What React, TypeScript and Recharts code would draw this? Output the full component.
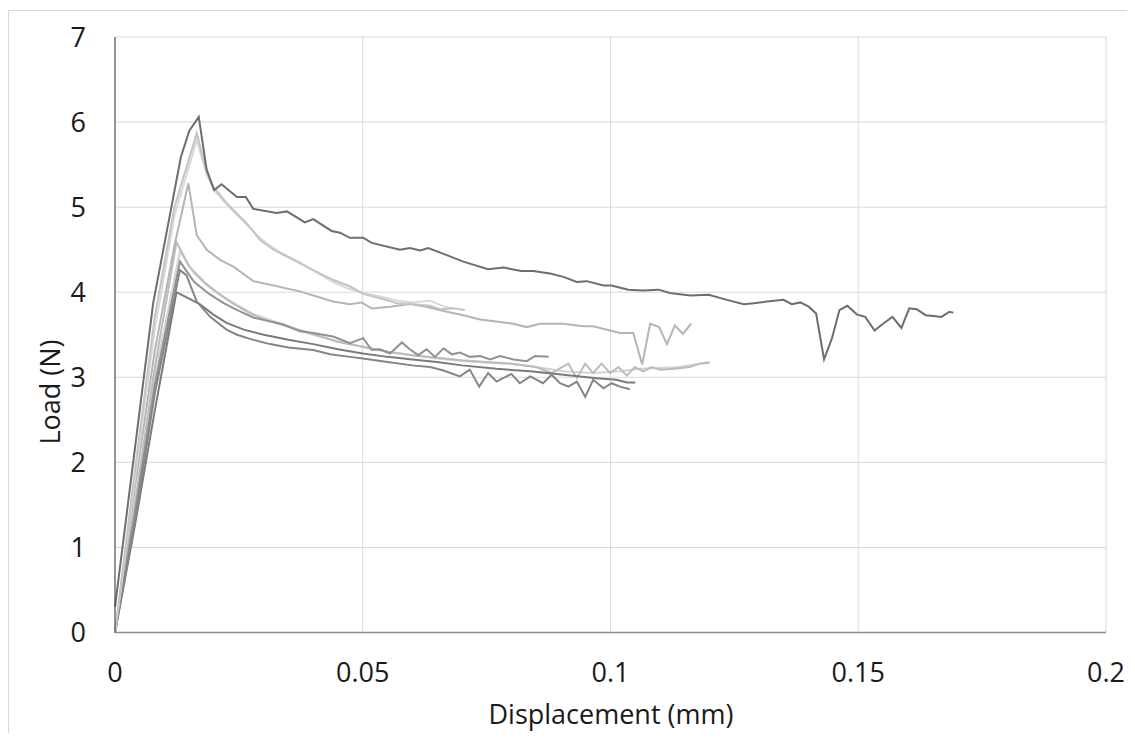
import React from "react";
import {
  CartesianGrid,
  Label,
  Line,
  LineChart,
  XAxis,
  YAxis,
} from "recharts";

interface Pt {
  x: number;
  y: number;
}

const toPts = (rows: number[][]): Pt[] => rows.map(([x, y]) => ({ x, y }));

// displacement (mm), load (N)
const specimenA = toPts([
  [0, 0.3], [0.0077, 3.87], [0.0133, 5.59], [0.015, 5.9], [0.0169, 6.06],
  [0.0185, 5.44], [0.02, 5.2], [0.0215, 5.27], [0.0246, 5.12], [0.0264, 5.12],
  [0.0279, 4.98], [0.0326, 4.93], [0.0347, 4.95], [0.0383, 4.82], [0.04, 4.86],
  [0.0437, 4.72], [0.0454, 4.7], [0.0474, 4.64], [0.0501, 4.64], [0.0518, 4.58],
  [0.0575, 4.5], [0.0595, 4.52], [0.0616, 4.49], [0.0632, 4.52], [0.0663, 4.45],
  [0.0703, 4.36], [0.0753, 4.27], [0.0784, 4.29], [0.082, 4.25], [0.0844, 4.25],
  [0.0878, 4.22], [0.0905, 4.18], [0.0932, 4.12], [0.0952, 4.13], [0.0986, 4.08],
  [0.1002, 4.08], [0.1036, 4.03], [0.1066, 4.02], [0.1097, 4.03], [0.112, 3.99],
  [0.1161, 3.96], [0.1198, 3.97], [0.1235, 3.91], [0.1269, 3.86], [0.1289, 3.87],
  [0.1316, 3.89], [0.1349, 3.91], [0.1366, 3.86], [0.1383, 3.88], [0.14, 3.83],
  [0.1415, 3.75], [0.1431, 3.21], [0.1447, 3.46], [0.1462, 3.79], [0.1478, 3.84],
  [0.1497, 3.74], [0.1514, 3.71], [0.1533, 3.55], [0.155, 3.63], [0.1569, 3.71],
  [0.1587, 3.58], [0.1603, 3.81], [0.1618, 3.8], [0.1636, 3.73], [0.1652, 3.72],
  [0.1668, 3.71], [0.1684, 3.77], [0.1692, 3.76],
]);

const specimenB = toPts([
  [0, 0], [0.004, 1.9], [0.008, 3.7], [0.012, 5.0], [0.0165, 5.87],
  [0.0185, 5.42], [0.0198, 5.24], [0.0225, 5.05], [0.0266, 4.81], [0.0293, 4.61],
  [0.032, 4.5], [0.036, 4.38], [0.04, 4.26], [0.0442, 4.14], [0.0474, 4.07],
  [0.0501, 3.98], [0.0535, 3.93], [0.0569, 3.87], [0.0602, 3.86], [0.0636, 3.84],
  [0.0656, 3.8], [0.0683, 3.81], [0.0706, 3.79],
]);

const specimenC = toPts([
  [0, 0], [0.004, 1.8], [0.008, 3.55], [0.012, 4.9], [0.0165, 5.79],
  [0.0185, 5.38], [0.02, 5.2], [0.023, 5.0], [0.027, 4.77], [0.03, 4.6],
  [0.033, 4.48], [0.037, 4.36], [0.041, 4.22], [0.044, 4.12], [0.0468, 4.05],
  [0.05, 3.99], [0.0535, 3.95], [0.057, 3.9], [0.06, 3.88], [0.0636, 3.9],
  [0.066, 3.84], [0.068, 3.81],
]);

const specimenD = toPts([
  [0, 0], [0.004, 1.7], [0.008, 3.3], [0.012, 4.55], [0.0148, 5.28],
  [0.0165, 4.67], [0.0185, 4.5], [0.0212, 4.38], [0.0239, 4.3], [0.0279, 4.13],
  [0.032, 4.08], [0.0373, 4.01], [0.0407, 3.95], [0.044, 3.89], [0.0474, 3.86],
  [0.0498, 3.88], [0.0518, 3.81], [0.0555, 3.83], [0.0595, 3.86], [0.0629, 3.83],
  [0.0663, 3.78], [0.0703, 3.73], [0.0737, 3.68], [0.0777, 3.65], [0.0804, 3.63],
  [0.0831, 3.59], [0.0858, 3.63], [0.0905, 3.63], [0.0945, 3.6], [0.0965, 3.6],
  [0.1019, 3.52], [0.1046, 3.52], [0.1064, 3.15], [0.108, 3.63], [0.1098, 3.59],
  [0.1114, 3.39], [0.113, 3.61], [0.1146, 3.51], [0.1163, 3.63],
]);

const specimenE = toPts([
  [0, 0], [0.004, 1.5], [0.008, 3.1], [0.0124, 4.59], [0.015, 4.3],
  [0.018, 4.12], [0.021, 3.98], [0.024, 3.86], [0.027, 3.76], [0.03, 3.68],
  [0.034, 3.61], [0.0394, 3.52], [0.0447, 3.42], [0.05, 3.36], [0.055, 3.3],
  [0.06, 3.26], [0.065, 3.23], [0.07, 3.2], [0.075, 3.18], [0.08, 3.16],
  [0.085, 3.12], [0.0881, 3.05], [0.0915, 3.16], [0.0932, 2.99], [0.0949, 3.16],
  [0.0965, 3.05], [0.0982, 3.16], [0.0999, 3.05], [0.1016, 3.12], [0.1033, 3.02],
  [0.1049, 3.12], [0.1066, 3.07], [0.1083, 3.12], [0.11, 3.09], [0.113, 3.1],
  [0.116, 3.12], [0.118, 3.16], [0.12, 3.17],
]);

const specimenF = toPts([
  [0, 0], [0.004, 1.5], [0.008, 3.0], [0.0131, 4.48], [0.016, 4.22],
  [0.019, 4.06], [0.022, 3.94], [0.025, 3.84], [0.028, 3.74], [0.031, 3.68],
  [0.035, 3.6], [0.04, 3.5], [0.045, 3.42], [0.05, 3.36], [0.055, 3.3],
  [0.06, 3.26], [0.065, 3.22], [0.07, 3.19], [0.075, 3.17], [0.08, 3.16],
  [0.085, 3.12], [0.0905, 3.07], [0.0965, 3.05], [0.1019, 3.07], [0.106, 3.1],
  [0.11, 3.11], [0.114, 3.12], [0.117, 3.15], [0.12, 3.18],
]);

const specimenG = toPts([
  [0, 0], [0.004, 1.4], [0.008, 2.9], [0.0131, 4.36], [0.016, 4.12],
  [0.019, 3.98], [0.022, 3.87], [0.025, 3.78], [0.028, 3.7], [0.031, 3.66],
  [0.034, 3.62], [0.0373, 3.54], [0.04, 3.52], [0.044, 3.48], [0.0474, 3.4],
  [0.0501, 3.46], [0.0518, 3.32], [0.0535, 3.33], [0.0555, 3.28], [0.0579, 3.41],
  [0.0595, 3.33], [0.0612, 3.26], [0.0629, 3.33], [0.0646, 3.24], [0.0663, 3.34],
  [0.068, 3.27], [0.0696, 3.29], [0.0716, 3.24], [0.0737, 3.25], [0.0757, 3.21],
  [0.0777, 3.25], [0.0804, 3.21], [0.0831, 3.19], [0.0848, 3.25], [0.0875, 3.24],
]);

const specimenH = toPts([
  [0, 0], [0.004, 1.3], [0.008, 2.8], [0.0131, 4.26], [0.0144, 4.2],
  [0.0165, 3.89], [0.0192, 3.71], [0.0225, 3.56], [0.0246, 3.5], [0.0279, 3.44],
  [0.0313, 3.39], [0.035, 3.35], [0.04, 3.32], [0.0434, 3.27], [0.0474, 3.24],
  [0.05, 3.22], [0.055, 3.18], [0.06, 3.14], [0.0636, 3.12], [0.0663, 3.08],
  [0.0696, 3.01], [0.0716, 3.09], [0.0735, 2.89], [0.0753, 3.05], [0.077, 2.95],
  [0.08, 3.04], [0.0817, 2.93], [0.0838, 3.01], [0.0864, 2.93], [0.0881, 3.03],
  [0.0898, 2.93], [0.0915, 2.89], [0.0932, 2.95], [0.0949, 2.77], [0.0965, 2.97],
  [0.0986, 2.87], [0.1002, 2.93], [0.1019, 2.89], [0.1039, 2.86],
]);

const specimenI = toPts([
  [0, 0], [0.004, 1.25], [0.008, 2.6], [0.0124, 4.0], [0.0171, 3.86],
  [0.0198, 3.74], [0.0225, 3.64], [0.026, 3.56], [0.03, 3.5], [0.035, 3.44],
  [0.04, 3.39], [0.045, 3.33], [0.05, 3.28], [0.055, 3.24], [0.06, 3.21],
  [0.065, 3.18], [0.07, 3.14], [0.077, 3.1], [0.0838, 3.07], [0.0905, 3.03],
  [0.0972, 2.99], [0.1012, 2.97], [0.1033, 2.94], [0.105, 2.94],
]);

const xTicks = [0, 0.05, 0.1, 0.15, 0.2];
const yTicks = [0, 1, 2, 3, 4, 5, 6, 7];

const series = [
  { key: "F", data: specimenF, color: "#d3d3d3" },
  { key: "E", data: specimenE, color: "#bcbcbc" },
  { key: "G", data: specimenG, color: "#929292" },
  { key: "I", data: specimenI, color: "#7a7a7a" },
  { key: "H", data: specimenH, color: "#858585" },
  { key: "D", data: specimenD, color: "#b5b5b5" },
  { key: "C", data: specimenC, color: "#d9d9d9" },
  { key: "B", data: specimenB, color: "#c4c4c4" },
  { key: "A", data: specimenA, color: "#6e6e6e" },
];

const font = "'Open Sans', sans-serif";

const YTitle = () => (
  <text
    x={41}
    y={384}
    transform="rotate(-90, 41, 384)"
    textAnchor="middle"
    dominantBaseline="central"
    fontFamily={font}
    fontSize={27}
    fill="#1a1a1a"
  >
    Load (N)
  </text>
);

const XTitle = () => (
  <text
    x={603}
    y={716}
    textAnchor="middle"
    fontFamily={font}
    fontSize={27}
    fill="#1a1a1a"
  >
    Displacement (mm)
  </text>
);

export default function App() {
  return (
    <div style={{ position: "relative", width: 1122, height: 725 }}>
      <div
        style={{
          position: "absolute",
          left: 0,
          top: 2,
          width: 1126,
          height: 723,
          borderLeft: "1px solid #d9d9d9",
          borderTop: "1px solid #d9d9d9",
          boxSizing: "border-box",
          pointerEvents: "none",
        }}
      />
      <LineChart
        width={1122}
        height={725}
        margin={{ top: 29, right: 24, bottom: 40.5, left: 0 }}
      >
        <CartesianGrid stroke="#d9d9d9" strokeWidth={1} />
        <XAxis
          type="number"
          dataKey="x"
          domain={[0, 0.2]}
          ticks={xTicks}
          interval={0}
          height={60}
          tickLine={false}
          tickSize={0}
          tickMargin={30}
          axisLine={{ stroke: "#8c8c8c", strokeWidth: 1.5 }}
          tick={{ fill: "#1a1a1a", fontSize: 27, fontFamily: font }}
          label={<Label content={<XTitle />} />}
        />
        <YAxis
          type="number"
          domain={[0, 7]}
          ticks={yTicks}
          interval={0}
          width={107}
          tickLine={false}
          tickSize={0}
          tickMargin={29}
          axisLine={{ stroke: "#3c3c3c", strokeWidth: 1 }}
          tick={{ fill: "#1a1a1a", fontSize: 27, fontFamily: font }}
          label={<Label content={<YTitle />} />}
        />
        {series.map((s) => (
          <Line
            key={s.key}
            data={s.data}
            dataKey="y"
            type="linear"
            stroke={s.color}
            strokeWidth={2}
            dot={false}
            activeDot={false}
            isAnimationActive={false}
          />
        ))}
      </LineChart>
    </div>
  );
}
